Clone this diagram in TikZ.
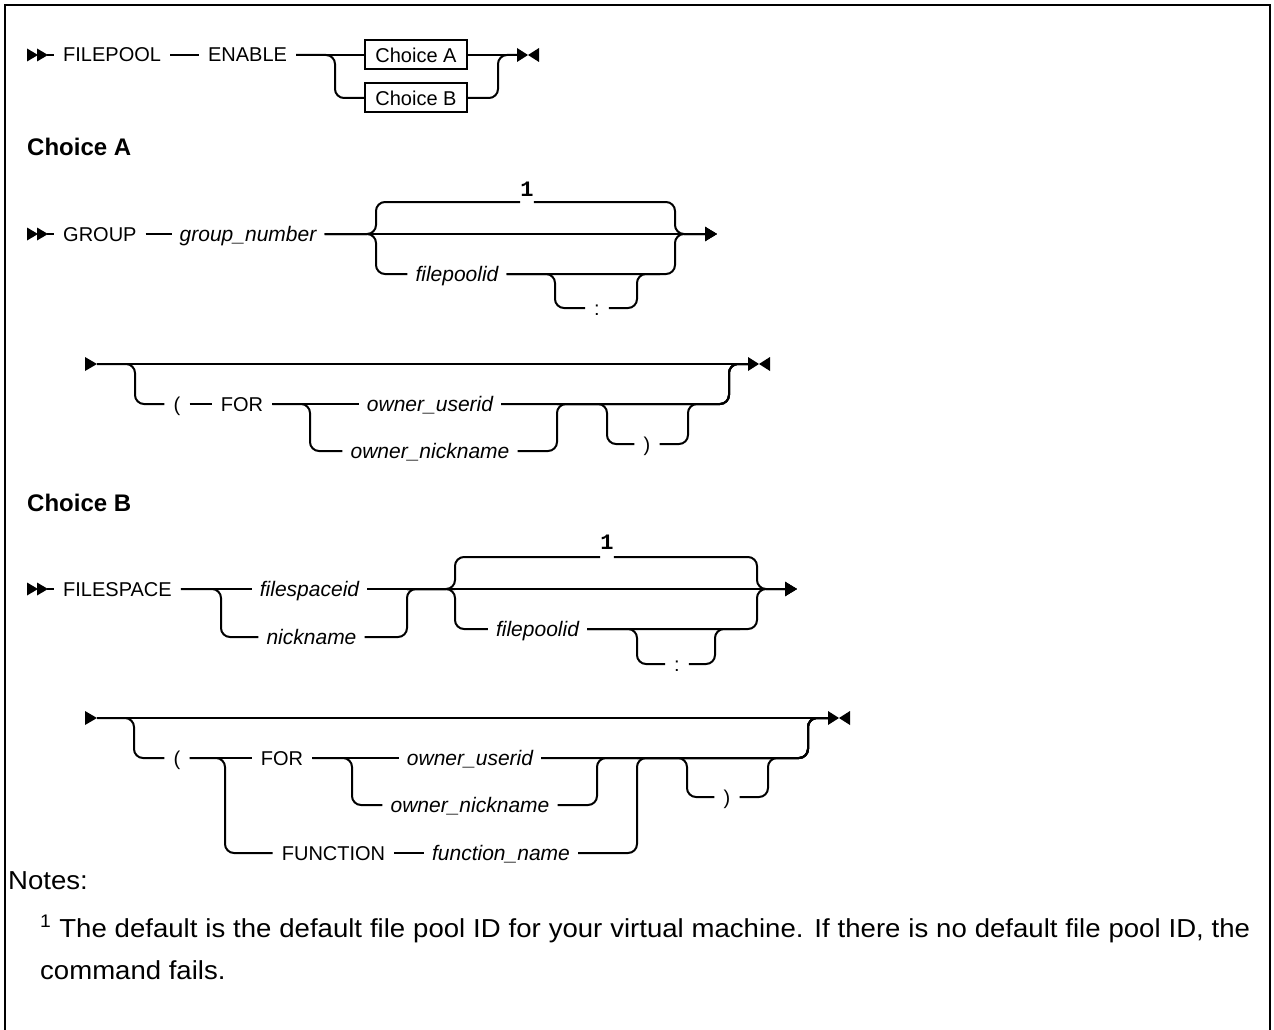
\documentclass[tikz,border=0pt]{standalone}
\usepackage{fontspec}
\setmainfont{Liberation Sans}
\newfontfamily\railmono{Liberation Mono}
\newfontfamily\notefont[FakeStretch=1.06]{Liberation Sans}
\usetikzlibrary{arrows.meta,calc,positioning}

\tikzset{
  rail/.style={line width=2pt, rounded corners=9pt},
  contarrow/.style={-{Triangle[length=12pt,width=14pt]}},
  kw/.style={inner xsep=9pt, inner ysep=0pt, text height=14pt, text depth=0pt,
    font=\fontsize{20}{24}\selectfont},
  var/.style={kw, inner xsep=8pt, font=\fontsize{21}{25}\selectfont\itshape},
  chbox/.style={draw, line width=2pt, minimum width=102pt, minimum height=29pt,
    inner xsep=0pt, font=\fontsize{20}{24}\selectfont},
  fnmark/.style={inner sep=0pt, font=\fontsize{22}{26}\selectfont\railmono\bfseries},
  heading/.style={anchor=base west, inner sep=0pt, font=\fontsize{24}{28}\selectfont\bfseries},
  note/.style={anchor=base west, inner sep=0pt, font=\notefont\fontsize{26}{30}\selectfont},
  dblstart/.pic={
    \fill (-27,-6.5) -- (-16,0) -- (-27,6.5) -- cycle;
    \fill (-17,-6.5) -- (-6,0) -- (-17,6.5) -- cycle;
    \draw[line width=2pt] (-7,0) -- (0,0);},
  contstart/.pic={\fill (-12,-7) -- (0,0) -- (-12,7) -- cycle;},
  stopmark/.pic={
    \fill (0,-7) -- (11,0) -- (0,7) -- cycle;
    \fill (22,-7) -- (11,0) -- (22,7) -- cycle;}
}

\begin{document}
\begin{tikzpicture}[x=1pt,y=-1pt]
  \useasboundingbox (0,0) rectangle (1274,1030);
  \draw[line width=2pt] (5,1030) -- (5,5) -- (1270,5) -- (1270,1030);

  % main line
  \node[kw, anchor=west] (filepool) at (54,55) {FILEPOOL};
  \node[kw] (enable) at (247.5,55) {ENABLE};
  \node[chbox] (choiceA) at (416,55) {Choice A};
  \node[chbox] (choiceB) at (416,98) {Choice B};
  \coordinate (forkAB) at (335,98);
  \coordinate (joinAB) at (498,55);
  \coordinate (stopAB) at (517,55);
  \draw[rail] (filepool.east) -- (enable.west);
  \draw[rail] (enable.east) -- (choiceA.west);
  \draw[rail] (enable.east) -| (forkAB) -- (choiceB.west);
  \draw[rail] (choiceA.east) -- (stopAB);
  \draw[rail] (choiceB.east) -| (joinAB) -- (stopAB);

  % Choice A
  \node[heading] (headA) at (27,155) {Choice A};
  \node[kw, anchor=west] (group) at (54,234) {GROUP};
  \node[var] (gnum) at (248,234) {group\_number};
  \node[fnmark] (dfltA) at (527,189) {1};
  \node[var] (fpoolA) at (457,274) {filepoolid};
  \node[kw] (colonA) at (597,308) {:};
  \coordinate (g1) at (376,202);
  \coordinate (g2) at (376,274);
  \coordinate (g3) at (675,234);
  \coordinate (g4) at (717,234);
  \coordinate (g5) at (555,308);
  \coordinate (g6) at (637,274);
  \coordinate (g7) at (660,274);
  \draw[rail] (group.east) -- (gnum.west);
  \draw[rail, contarrow] (gnum.east) -- (g4);
  \draw[rail] (gnum.east) -| (g1) -- (g1 -| dfltA.west);
  \draw[rail, contarrow] (g1 -| dfltA.east) -| (g3) -- (g4);
  \draw[rail] (gnum.east) -| (g2) -- (fpoolA.west);
  \draw[rail, contarrow] (fpoolA.east) -| (g3) -- (g4);
  \draw[rail] (fpoolA.east) -| (g5) -- (colonA.west);
  \draw[rail] (colonA.east) -| (g6) -- (g7);

  \coordinate (c2) at (97,364);
  \node[kw] (lparA) at (177,404) {(};
  \node[kw] (forA) at (242,404) {FOR};
  \node[var] (ouidA) at (430,404) {owner\_userid};
  \node[var] (onickA) at (430,451) {owner\_nickname};
  \node[kw] (rparA) at (647,444) {)};
  \coordinate (h1) at (135,404);
  \coordinate (h2) at (310,451);
  \coordinate (h3) at (557,404);
  \coordinate (h4) at (607,444);
  \coordinate (h5) at (688,404);
  \coordinate (h6) at (729,364);
  \coordinate (stopA) at (748,364);
  \draw[rail] (c2) -- (stopA);
  \draw[rail] (c2) -| (h1) -- (lparA.west);
  \draw[rail] (lparA.east) -- (forA.west);
  \draw[rail] (forA.east) -- (ouidA.west);
  \draw[rail] (forA.east) -| (h2) -- (onickA.west);
  \draw[rail] (ouidA.east) -| (h6) -- (stopA);
  \draw[rail] (onickA.east) -| (h3) -| (h6) -- (stopA);
  \draw[rail] (h3) -| (h4) -- (rparA.west);
  \draw[rail] (rparA.east) -| (h5) -| (h6) -- (stopA);

  % Choice B
  \node[heading] (headB) at (27,511) {Choice B};
  \node[kw, anchor=west] (filespace) at (54,589) {FILESPACE};
  \node[var] (fsid) at (309.5,589) {filespaceid};
  \node[var] (nickB) at (311.5,637) {nickname};
  \node[fnmark] (dfltB) at (607,542) {1};
  \node[var] (fpoolB) at (537.5,629) {filepoolid};
  \node[kw] (colonB) at (677,664) {:};
  \coordinate (k1) at (221,637);
  \coordinate (k2) at (407,589);
  \coordinate (k3) at (455,557);
  \coordinate (k4) at (455,629);
  \coordinate (k5) at (757,589);
  \coordinate (k6) at (797,589);
  \coordinate (k7) at (637,664);
  \coordinate (k8) at (715,629);
  \coordinate (k9) at (740,629);
  \draw[rail] (filespace.east) -- (fsid.west);
  \draw[rail] (filespace.east) -| (k1) -- (nickB.west);
  \draw[rail, contarrow] (fsid.east) -- (k6);
  \draw[rail] (nickB.east) -| (k2) -- (k3 |- k2);
  \draw[rail] (k2) -| (k3) -- (k3 -| dfltB.west);
  \draw[rail, contarrow] (k3 -| dfltB.east) -| (k5) -- (k6);
  \draw[rail] (k2) -| (k4) -- (fpoolB.west);
  \draw[rail, contarrow] (fpoolB.east) -| (k5) -- (k6);
  \draw[rail] (fpoolB.east) -| (k7) -- (colonB.west);
  \draw[rail] (colonB.east) -| (k8) -- (k9);

  \coordinate (c4) at (97,718);
  \node[kw] (lparB) at (177,758) {(};
  \node[kw] (forB) at (282,758) {FOR};
  \node[var] (ouidB) at (470,758) {owner\_userid};
  \node[var] (onickB) at (470,805) {owner\_nickname};
  \node[kw] (func) at (333.5,853) {FUNCTION};
  \node[var] (fname) at (501,853) {function\_name};
  \node[kw] (rparB) at (727,797) {)};
  \coordinate (m1) at (134,758);
  \coordinate (m2) at (225,853);
  \coordinate (m3) at (352,805);
  \coordinate (m4) at (597,758);
  \coordinate (m5) at (637,758);
  \coordinate (m6) at (687,797);
  \coordinate (m7) at (768,758);
  \coordinate (m8) at (808,718);
  \coordinate (stopB) at (828,718);
  \draw[rail] (c4) -- (stopB);
  \draw[rail] (c4) -| (m1) -- (lparB.west);
  \draw[rail] (lparB.east) -- (forB.west);
  \draw[rail] (lparB.east) -| (m2) -- (func.west);
  \draw[rail] (forB.east) -- (ouidB.west);
  \draw[rail] (forB.east) -| (m3) -- (onickB.west);
  \draw[rail] (func.east) -- (fname.west);
  \draw[rail] (ouidB.east) -| (m8) -- (stopB);
  \draw[rail] (onickB.east) -| (m4) -| (m8) -- (stopB);
  \draw[rail] (fname.east) -| (m5) -| (m8) -- (stopB);
  \draw[rail] (m5) -| (m6) -- (rparB.west);
  \draw[rail] (rparB.east) -| (m7) -| (m8) -- (stopB);

  \foreach \n in {filepool,group,filespace} \pic at (\n.west) {dblstart};
  \foreach \c in {c2,c4} \pic at (\c) {contstart};
  \foreach \s in {stopAB,stopA,stopB} \pic at (\s) {stopmark};

  % notes
  \node[note] (notes) at (8,889) {Notes:};
  \node[note] (fn1) at (40,937) {\makebox[1210pt][s]{\textsuperscript{1} The default is the default file pool ID for your virtual machine. If there is no default file pool ID, the}};
  \node[note] (fn2) at (40,979) {command fails.};
\end{tikzpicture}
\end{document}
